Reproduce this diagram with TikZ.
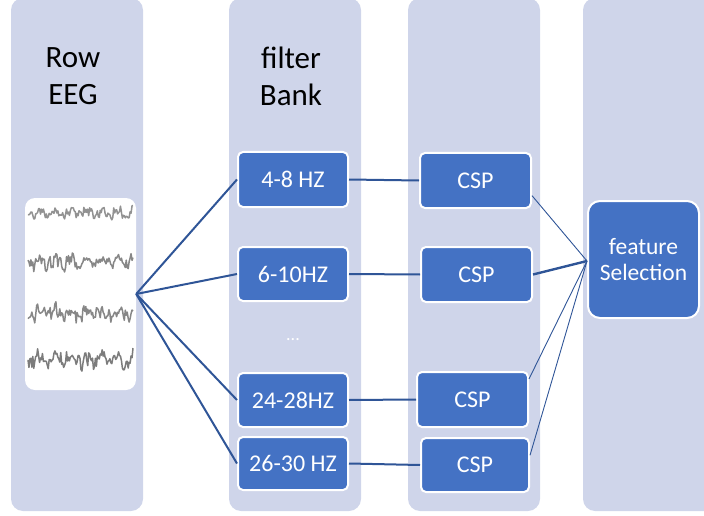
\documentclass[tikz,border=0pt]{standalone}
\usepackage{fontspec}
\setmainfont{Carlito}
\definecolor{colbg}{HTML}{CFD5EA}
\definecolor{boxblue}{HTML}{4472C4}
\definecolor{linkblue}{HTML}{2F5597}
\tikzset{
  colpanel/.style={fill=colbg, draw=none, rounded corners=12pt},
  bluebox/.style={fill=boxblue, draw=white, line width=2pt, rounded corners=5pt, text=white,
    font=\fontsize{24}{28}\selectfont, inner sep=0pt, align=center},
  heading/.style={font=\fontsize{31}{37}\selectfont, align=center, text=black},
  link/.style={draw=linkblue, line width=2pt},
  thinlink/.style={draw=linkblue, line width=0.9pt},
}
\begin{document}
\begin{tikzpicture}[x=1pt,y=-1pt]
\useasboundingbox (0,0) rectangle (704,516);
\begin{scope}
\clip (0,0) rectangle (704,516);
% column panels
\fill[colpanel] (11,-2) rectangle (143,511);
\fill[colpanel] (229,-2) rectangle (361,511);
\fill[colpanel] (408,-2) rectangle (540,511);
\fill[colpanel] (583,-2) rectangle (720,511);
\end{scope}
% headings
\node[heading] (h1) at (73,76) {Row\\EEG};
\node[heading] (h2) at (291,76) {filter\\Bank};
% EEG image
\node[fill=white, rounded corners=10pt, minimum width=111pt, minimum height=192pt, inner sep=0pt] (eeg) at (80.5,294) {};
\pgfmathsetseed{11}
\foreach \yc/\amp/\g in {213/7/50, 262/10/55, 313/10/55, 360/12/60}{
  \draw[black!\g, line width=1.5pt, line join=round, opacity=0.85]
    plot[domain=0:105, samples=110] ({28+\x}, {\yc + \amp*(0.35*sin(\x*23) + 0.3*sin(\x*61+40) + 0.55*rand)});
}
% filter boxes
\node[bluebox, minimum width=110pt, minimum height=55pt] (f1) at (293,179.5) {4-8 HZ};
\node[bluebox, minimum width=110pt, minimum height=54pt] (f2) at (293,274) {6-10HZ};
\node[text=white, font=\fontsize{18}{20}\selectfont] (dots) at (293,340) {...};
\node[bluebox, minimum width=110pt, minimum height=54pt] (f3) at (293,400) {24-28HZ};
\node[bluebox, minimum width=110pt, minimum height=53pt] (f4) at (293,463.5) {26-30 HZ};
% CSP boxes
\node[bluebox, minimum width=111pt, minimum height=55pt] (c1) at (475.5,180.5) {CSP};
\node[bluebox, minimum width=111pt, minimum height=55pt] (c2) at (476.5,274.5) {CSP};
\node[bluebox, minimum width=111pt, minimum height=55pt] (c3) at (472.5,399.5) {CSP};
\node[bluebox, minimum width=108pt, minimum height=54pt] (c4) at (475,465) {CSP};
% feature selection
\node[bluebox, rounded corners=12pt, minimum width=111pt, minimum height=117pt,
  font=\fontsize{23.5}{26}\selectfont] (fs) at (643.5,259.5) {feature\\Selection};
\coordinate (fan) at (eeg.east);
\coordinate (fsin) at (587,261);
% connectors
\draw[link] (fan) -- (f1.west);
\draw[link] (fan) -- (f2.west);
\draw[link] (fan) -- (f3.west);
\draw[link] (fan) -- (f4.west);
\draw[link] (f1.east) -- (c1.west);
\draw[link] (f2.east) -- (c2.west);
\draw[link] (f3.east) -- (c3.west);
\draw[link] (f4.east) -- (c4.west);
\draw[thinlink] (c1.-15) -- (fsin);
\draw[link, line width=2.4pt] (c2.east) -- (fsin);
\draw[thinlink] (c3.20) -- (fsin);
\draw[thinlink] (c4.10) -- (fsin);
\end{tikzpicture}
\end{document}
